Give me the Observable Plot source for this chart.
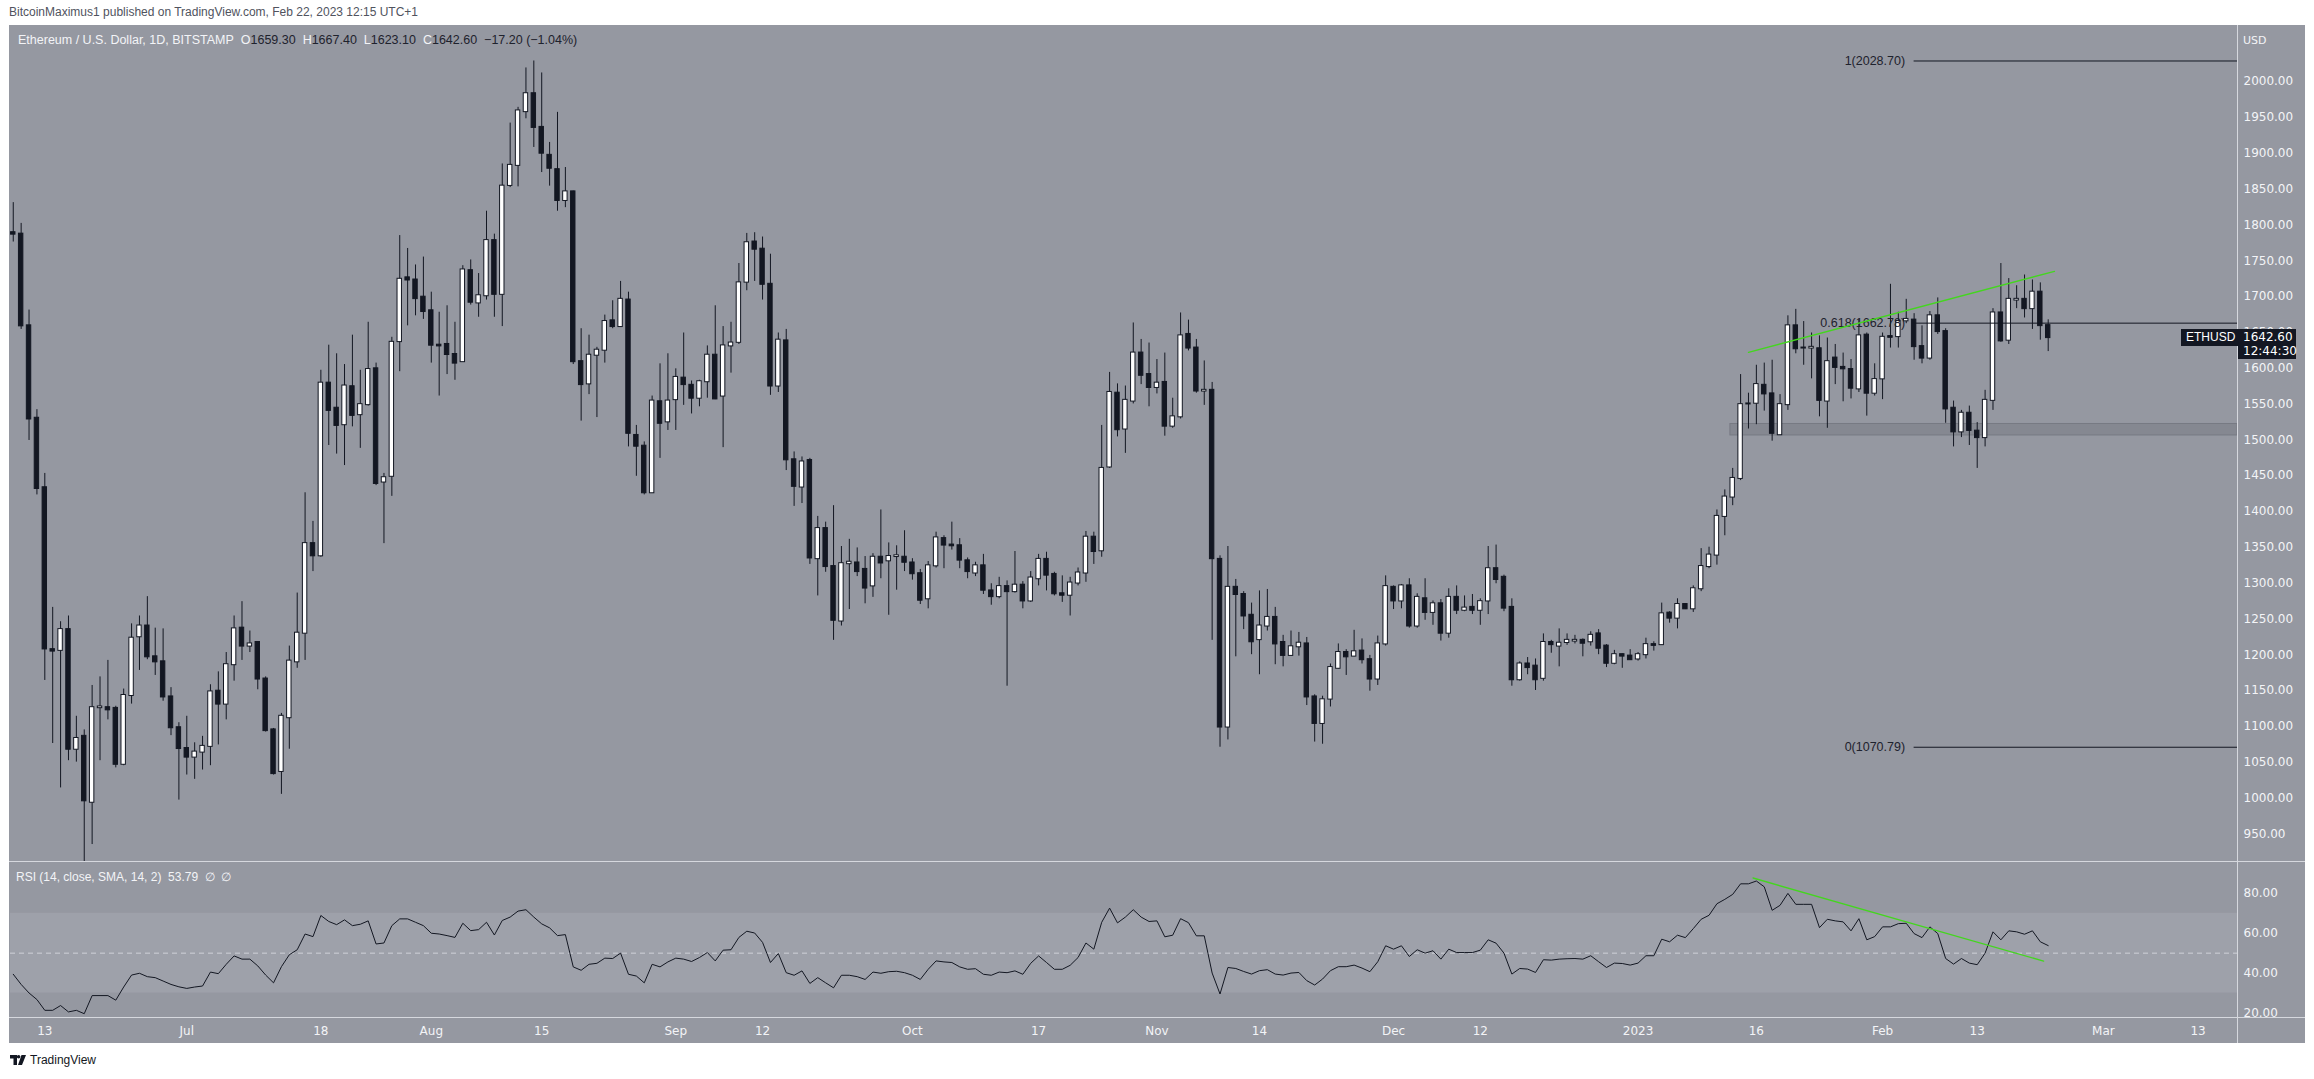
<!DOCTYPE html>
<html><head><meta charset="utf-8">
<script src="https://cdn.jsdelivr.net/npm/d3@7"></script>
<script src="https://cdn.jsdelivr.net/npm/@observablehq/plot@0.6"></script>
<style>
html,body{margin:0;padding:0;background:#fff;}
#page{position:relative;width:2314px;height:1079px;overflow:hidden;background:#ffffff;font-family:"Liberation Sans",Arial,sans-serif;}
#hdr{position:absolute;left:9px;top:5px;font-size:12px;color:#50535e;white-space:nowrap;}
#panel{position:absolute;left:9px;top:25px;width:2296px;height:1018px;background:#9598a1;}
#main,#rsi{position:absolute;left:0;}
#main{top:0}#rsi{top:836px}
.lbl{position:absolute;white-space:nowrap;}
.hl{position:absolute;background:#d6d8de;}
#foot{position:absolute;left:10px;top:1053px;font-size:12px;color:#131722;display:flex;align-items:center;gap:4px;}
</style></head>
<body><div id="page">
<div id="hdr">BitcoinMaximus1 published on TradingView.com, Feb 22, 2023 12:15 UTC+1</div>
<div id="panel"></div>
<div id="foot"><svg width="16" height="10" viewBox="0 0 16 10"><path d="M0 0h7v10h-3.5v-6.5H0z" fill="#131722"/><circle cx="8.6" cy="1.8" r="1.8" fill="#131722"/><path d="M11.5 0H16l-4 10H8z" fill="#131722"/></svg><span>TradingView</span></div>
</div>
<script>
// ---- data ----
const startDate = "2022-06-09"; // first daily candle, consecutive days
const opens = [
1789,1787,1659,1530,1433,1207,1206,1235,1068,1086,994,1126,1126,1125,1047,1143,1225,1240,1197,1190,1141,1098,
1069,1057,1064,1072,1149,1131,1186,1237,1212,1217,1166,1095,1037,1112,1190,1230,1355,1338,1579,1544,1521,1574,1535,1549,1599,1441,1449,1637,1726,1723,1699,
1680,1632,1633,1619,1609,1736,1691,1701,1778,1703,1855,1883,1958,1983,1936,1897,1877,1834,1846,1609,1578,1618,1625,1666,1658,1695,1506,1491,1426,1553,1525,
1556,1586,1576,1558,1581,1618,1561,1631,1636,1720,1776,1766,1717,1575,1638,1472,1434,1471,1334,1376,1323,1247,1327,1328,1319,1296,1336,1331,1337,1336,
1328,1313,1278,1324,1362,1353,1352,1331,1314,1324,1289,1281,1295,1288,1297,1275,1306,1333,1312,1285,1283,1300,1314,1364,1345,1462,1565,1515,1554,1621,1591,
1573,1580,1519,1532,1647,1628,1568,1569,1333,1099,1294,1284,1255,1221,1240,1252,1217,1199,1211,1215,1141,1104,1138,1181,1203,1198,1205,1193,1166,1215,
1294,1275,1296,1240,1278,1259,1271,1230,1280,1262,1266,1262,1275,1320,1308,1266,1165,1187,1184,1167,1217,1212,1217,1219,1220,1218,1229,1212,1188,1200,1198,
1194,1200,1214,1214,1258,1251,1270,1264,1292,1323,1339,1393,1420,1446,1550,1551,1576,1564,1507,1549,1659,1628,1628,1627,1554,1614,1601,1598,1571,1646,1565,
1585,1644,1644,1666,1667,1630,1614,1673,1651,1544,1511,1537,1512,1503,1555,1677,1639,1695,1696,1683,1706,1659.3];
const highs = [
1831,1802,1681,1542,1453,1266,1246,1254,1114,1095,1157,1169,1192,1128,1152,1243,1254,1281,1237,1236,1154,1105,
1114,1077,1086,1158,1176,1203,1254,1274,1233,1218,1169,1097,1118,1212,1286,1426,1386,1597,1632,1620,1605,1646,1597,1664,1607,1453,1643,1785,1767,1744,1755,
1706,1678,1687,1664,1743,1751,1732,1819,1787,1885,1942,1964,2019,2028.7,2012,1915,1957,1880,1847,1655,1646,1629,1674,1694,1721,1706,1520,1497,1561,1606,1620,
1599,1649,1582,1583,1631,1687,1658,1664,1746,1788,1789,1783,1759,1649,1654,1483,1476,1474,1393,1385,1408,1351,1361,1349,1337,1341,1402,1356,1352,1373,
1334,1319,1330,1371,1366,1385,1362,1335,1329,1340,1299,1308,1303,1344,1302,1316,1340,1343,1315,1310,1308,1321,1372,1371,1520,1594,1578,1575,1663,1640,1635,
1612,1621,1558,1677,1667,1640,1610,1580,1338,1351,1305,1288,1272,1289,1291,1266,1227,1233,1231,1224,1144,1142,1187,1215,1207,1234,1222,1199,1226,1310,
1296,1298,1306,1285,1306,1275,1277,1292,1296,1282,1284,1278,1351,1353,1311,1278,1190,1196,1194,1229,1220,1236,1229,1227,1222,1232,1235,1214,1206,1201,1207,
1203,1223,1218,1272,1260,1278,1271,1296,1348,1350,1402,1430,1460,1591,1565,1604,1607,1611,1563,1673,1682,1665,1649,1645,1642,1633,1621,1612,1668,1649,1606,
1649,1717,1678,1696,1676,1659,1679,1698,1655,1554,1541,1547,1524,1569,1683,1746,1725,1715,1730,1723,1719,1667.4];
const lows = [
1776,1654,1499,1423,1164,1076,1014,1052,1050,880,935,1052,1109,1042,1045,1131,1178,1193,1171,1135,1087,997,
1032,1026,1039,1045,1074,1109,1163,1192,1203,1151,1092,1032,1005,1068,1181,1192,1316,1336,1492,1480,1464,1518,1488,1547,1436,1355,1421,1595,1659,1673,1668,
1607,1561,1591,1583,1608,1688,1671,1695,1671,1658,1852,1853,1948,1908,1873,1854,1819,1824,1605,1526,1563,1531,1607,1655,1657,1490,1449,1423,1425,1474,1513,
1513,1548,1536,1546,1558,1556,1489,1593,1633,1708,1721,1695,1562,1566,1457,1407,1411,1326,1282,1315,1220,1240,1263,1309,1271,1280,1306,1255,1290,1316,
1304,1270,1264,1321,1320,1346,1320,1306,1309,1284,1269,1278,1156,1286,1264,1273,1296,1289,1282,1273,1254,1296,1301,1326,1336,1460,1504,1481,1550,1577,1546,
1564,1505,1516,1529,1624,1565,1548,1220,1070.79,1081,1197,1235,1200,1172,1233,1186,1183,1198,1198,1129,1078,1075,1127,1180,1171,1197,1187,1149,1157,1212,
1263,1264,1237,1237,1248,1241,1219,1223,1256,1260,1256,1241,1256,1299,1260,1156,1163,1172,1150,1163,1202,1183,1213,1215,1197,1212,1200,1182,1186,1181,1192,
1191,1194,1205,1213,1244,1236,1263,1259,1288,1320,1325,1366,1408,1443,1515,1521,1540,1498,1506,1541,1620,1604,1585,1532,1516,1577,1553,1557,1566,1533,1561,
1556,1628,1628,1662,1611,1606,1611,1647,1523,1490,1503,1492,1460,1490,1541,1636,1633,1683,1670,1654,1639,1623.1];
const closes = [
1787,1659,1529,1432,1208,1205,1235,1068,1083,996,1126,1127,1123,1047,1143,1223,1240,1197,1190,1141,1098,1069,
1057,1064,1072,1148,1131,1186,1236,1212,1215,1166,1094,1034,1114,1191,1230,1355,1338,1579,1541,1520,1575,1534,1549,1598,1439,1447,1636,1724,1723,1697,1679,
1632,1631,1619,1607,1737,1692,1701,1778,1703,1854,1883,1959,1983,1936,1900,1879,1834,1846,1609,1577,1618,1625,1665,1658,1696,1509,1491,1426,1554,1523,1554,
1587,1577,1558,1581,1618,1557,1631,1635,1719,1775,1766,1717,1575,1639,1472,1435,1469,1335,1376,1323,1248,1327,1329,1316,1293,1336,1328,1337,1338,1329,
1313,1276,1324,1363,1353,1352,1332,1316,1324,1290,1281,1295,1288,1297,1275,1307,1333,1311,1285,1283,1300,1314,1364,1344,1460,1566,1514,1555,1621,1590,1573,
1579,1519,1532,1645,1628,1568,1569,1334,1099,1294,1284,1254,1218,1240,1252,1215,1199,1211,1216,1141,1104,1137,1182,1203,1197,1204,1193,1166,1215,1295,
1275,1296,1240,1280,1259,1271,1230,1280,1262,1265,1262,1274,1320,1305,1265,1165,1187,1182,1165,1217,1214,1216,1220,1220,1216,1227,1209,1188,1200,1198,1193,
1200,1214,1213,1257,1251,1270,1264,1292,1323,1339,1393,1420,1446,1549,1550,1577,1564,1509,1549,1659,1627,1628,1629,1555,1609,1601,1599,1572,1645,1565,1584,
1643,1643,1665,1668,1630,1614,1673,1651,1543,1511,1537,1513,1503,1555,1677,1638,1696,1696,1683,1706,1659.3,1642.6];
const rsiValues = [
39.4,34.3,30,26.7,21.3,21.3,23.7,20.5,21.3,19.6,28.7,28.7,28.7,26.4,33,39,39.9,38.2,37.7,36,34.3,33.1,
32.3,33,33.5,40.5,39.7,44.4,48.6,47,47,43.6,39,35.1,43.2,49.2,51.7,59.6,58.3,68.9,65.9,64.3,66.7,63.8,64.5,66.2,54.6,55.1,63.8,67.2,67.2,65.5,63.8,
60,59.6,58.8,57.9,65,61.3,61.8,65.5,59.1,66.4,68.1,71.1,71.8,68.1,64.7,62.7,58.8,59.3,43.1,41.4,44.4,44.9,47.5,47.3,50,39.4,38.5,35.1,44.4,43.1,45.6,
47.5,47,45.8,47.8,50.3,46.1,51.5,51.7,57.9,61,60.1,55.4,45.3,49.8,40.2,38.9,41.1,34.8,37.7,35.1,32.6,38.9,38.9,38.2,36.8,40.5,39.9,40.7,40.9,40.2,
38.9,36.8,41.9,46.1,45.6,45.3,43.1,41.9,42.2,39.4,38.9,40.5,40.2,41.1,39.4,44.9,48.6,45.3,41.9,41.9,43.9,47.8,55.1,52,65.5,72.6,65.2,68.1,71.8,68.1,65.9,
66.2,58.2,59,67.3,65.3,58.7,58.7,40,29.5,42.8,42.3,40.8,39.5,41.2,41.7,39.5,39,40,40.3,36.2,34,37,41.2,43.2,43.2,44,42.5,40.7,45.7,53.7,
52,53.7,48.3,51.7,50,51.2,47,52,50.3,50.3,50.3,51.5,56.7,55,50,39.5,42.3,42,40.3,46.7,46.5,47,47.2,47.3,47,48.7,45.7,42.8,45,44.8,44,
45,48.7,48.7,57,55.7,59,57.8,62.3,67,69,74.8,77,79.5,84.8,84.8,86.2,83.3,71.5,74,80,74.5,74.5,74.5,62.8,67,66.2,65.7,61.2,67.3,56.7,58.3,
63.2,63.2,64.8,65,59.8,57.8,63.2,59.8,47.3,44.5,47.3,45,44.2,50,60.7,56.7,61.2,60.7,59.5,61.2,55.7,53.79];
const priceTicks = [950,1000,1050,1100,1150,1200,1250,1300,1350,1400,1450,1500,1550,1600,1650,1700,1750,1800,1850,1900,1950,2000];
const rsiTicks = [20,40,60,80];
const tickDates = ["2022-06-13","2022-07-01","2022-07-18","2022-08-01","2022-08-15","2022-09-01","2022-09-12","2022-10-01","2022-10-17","2022-11-01","2022-11-14","2022-12-01","2022-12-12","2023-01-01","2023-01-16","2023-02-01","2023-02-13","2023-03-01","2023-03-13"];
const tickLabels = ["13","Jul","18","Aug","15","Sep","12","Oct","17","Nov","14","Dec","12","2023","16","Feb","13","Mar","13"];
const fibLevels = ["1","0.618","0"];
const fibPrices = [2028.70,1662.78,1070.79];
const fibStart = "2023-02-05";
const priceTrendDates = ["2023-01-15T00:00Z","2023-02-22T19:00Z"];
const priceTrendValues = [1622,1735];
const rsiTrendDates = ["2023-01-15T14:00Z","2023-02-21T10:00Z"];
const rsiTrendValues = [87.7,46];
const zoneStart = "2023-01-12T17:00Z";
const zonePrices = [1506,1522];
const lastPrice = 1642.60;

// ---- build ----
const DAY = 864e5;
const t0 = Date.parse(startDate + "T00:00Z");
const candles = closes.map((c,i)=>({date:new Date(t0+i*DAY), open:opens[i], high:highs[i], low:lows[i], close:c}));
const rsiData = rsiValues.map((v,i)=>({date:new Date(t0+i*DAY), value:v}));
const ref = Date.parse("2022-06-13T00:00Z");
const xDomain = [new Date(ref-4.35*DAY), new Date(ref+278*DAY)];
const ink = "#131722", green = "#44d61f";
const fibs = fibLevels.map((l,i)=>({label:`${l}(${fibPrices[i].toFixed(2)})`, price:fibPrices[i], x1:new Date(fibStart+"T00:00Z"), x2:xDomain[1]}));
const priceTrend = priceTrendDates.map((d,i)=>({date:new Date(d), value:priceTrendValues[i]}));
const rsiTrend = rsiTrendDates.map((d,i)=>({date:new Date(d), value:rsiTrendValues[i]}));
const zone = [{x1:new Date(zoneStart), x2:xDomain[1], y1:zonePrices[0], y2:zonePrices[1]}];
const labelOf = new Map(tickDates.map((d,i)=>[Date.parse(d+"T00:00Z"), tickLabels[i]]));
const axisStyle = {background:"none", color:"#f3f4f7", fontFamily:"DejaVu Sans, sans-serif", fontSize:"12px", overflow:"visible"};

const main = Plot.plot({
  width:2296, height:836, marginLeft:1, marginRight:68, marginTop:0, marginBottom:0,
  style:axisStyle,
  x:{type:"utc", domain:xDomain, axis:null},
  y:{domain:[911.3,2078.25], axis:"right", ticks:priceTicks, tickFormat:d=>d.toFixed(2), tickSize:0, tickPadding:6, label:null},
  marks:[
    Plot.rect(zone, {x1:"x1", x2:"x2", y1:"y1", y2:"y2", fill:"#858891", stroke:"#777a83", strokeWidth:1}),
    Plot.ruleX(candles, {x:"date", y1:"low", y2:"high", stroke:ink, strokeWidth:1, clip:true}),
    Plot.rect(candles, {x1:d=>new Date(+d.date-0.28*DAY), x2:d=>new Date(+d.date+0.28*DAY), y1:"open", y2:"close",
      insetTop:-0.5, insetBottom:-0.5,
      fill:d=>d.close>=d.open?"#ffffff":ink, stroke:ink, strokeWidth:1, clip:true}),
    Plot.ruleY(fibs, {y:"price", x1:"x1", x2:"x2", stroke:ink, strokeWidth:1}),
    Plot.text(fibs, {x:"x1", y:"price", text:"label", textAnchor:"end", dx:-9, fill:"#1e222d", fontSize:12.5, fontFamily:"Liberation Sans, Arial, sans-serif"}),
    Plot.line(priceTrend, {x:"date", y:"value", stroke:green, strokeWidth:1.4})
  ]
});
main.id = "main";

const rsiPlot = Plot.plot({
  width:2296, height:182, marginLeft:1, marginRight:68, marginTop:0, marginBottom:26,
  style:axisStyle,
  x:{type:"utc", domain:xDomain, axis:"bottom", ticks:tickDates.map(d=>new Date(d+"T00:00Z")), tickFormat:d=>labelOf.get(+d), tickSize:0, tickPadding:9, label:null},
  y:{domain:[17.7,96], axis:"right", ticks:rsiTicks, tickFormat:d=>d.toFixed(2), tickSize:0, tickPadding:6, label:null},
  marks:[
    Plot.rect([{x1:xDomain[0], x2:xDomain[1], y1:30, y2:70}], {x1:"x1", x2:"x2", y1:"y1", y2:"y2", fill:"#9ea1aa"}),
    Plot.ruleY([50], {stroke:"#d0d2d8", strokeDasharray:"5,4", strokeWidth:1}),
    Plot.line(rsiData, {x:"date", y:"value", stroke:ink, strokeWidth:1}),
    Plot.line(rsiTrend, {x:"date", y:"value", stroke:green, strokeWidth:1.4})
  ]
});
rsiPlot.id = "rsi";

const panel = document.getElementById("panel");
panel.appendChild(main);
panel.appendChild(rsiPlot);

// separators
function hline(y){const d=document.createElement("div");d.className="hl";d.style.cssText+=`left:0;top:${y}px;width:2296px;height:1px;`;panel.appendChild(d);}
function vline(x){const d=document.createElement("div");d.className="hl";d.style.cssText+=`left:${x}px;top:0;width:1px;height:1018px;`;panel.appendChild(d);}
hline(836); hline(836+156); vline(2228);

// legends and labels
function lbl(html, x, y, css){const d=document.createElement("div");d.className="lbl";d.innerHTML=html;d.style.cssText+=`left:${x}px;top:${y}px;`+(css||"");panel.appendChild(d);return d;}
const W = "#f3f4f7", D = "#1e222d";
lbl(`<span style="color:${W}">Ethereum / U.S. Dollar, 1D, BITSTAMP</span>&nbsp;&nbsp;<span style="color:${W}">O</span><span style="color:${D}">${opens[opens.length-1].toFixed(2)}</span>&nbsp;&nbsp;<span style="color:${W}">H</span><span style="color:${D}">${highs[highs.length-1].toFixed(2)}</span>&nbsp;&nbsp;<span style="color:${W}">L</span><span style="color:${D}">${lows[lows.length-1].toFixed(2)}</span>&nbsp;&nbsp;<span style="color:${W}">C</span><span style="color:${D}">${lastPrice.toFixed(2)}</span>&nbsp;&nbsp;<span style="color:${D}">−17.20 (−1.04%)</span>`, 9, 8, "font-size:12.5px;font-family:'Liberation Sans',Arial,sans-serif;");
lbl(`<span style="color:${W}">RSI (14, close, SMA, 14, 2)</span>&nbsp;&nbsp;<span style="color:${W}">${rsiValues[rsiValues.length-1].toFixed(2)}</span>&nbsp;&nbsp;<span style="color:${W}">∅&nbsp;&nbsp;∅</span>`, 7, 836+9, "font-size:12px;font-family:'Liberation Sans',Arial,sans-serif;");
lbl("USD", 2234, 9, `color:${W};font-size:11px;font-family:'DejaVu Sans',sans-serif;`);

const yLast = main.scale("y").apply(lastPrice);
lbl(`<div style="line-height:14px">${lastPrice.toFixed(2)}<br>12:44:30</div>`, 2229, yLast-8, `background:${ink};color:#fff;font-size:12px;font-family:'DejaVu Sans',sans-serif;padding:1px 5px 1px 5px;width:48px;`);
lbl("ETHUSD", 2172, yLast-8.5, `background:${ink};color:#fff;font-size:12px;font-family:'Liberation Sans',Arial,sans-serif;padding:1px 5px;line-height:15px;`);
</script>
</body></html>
